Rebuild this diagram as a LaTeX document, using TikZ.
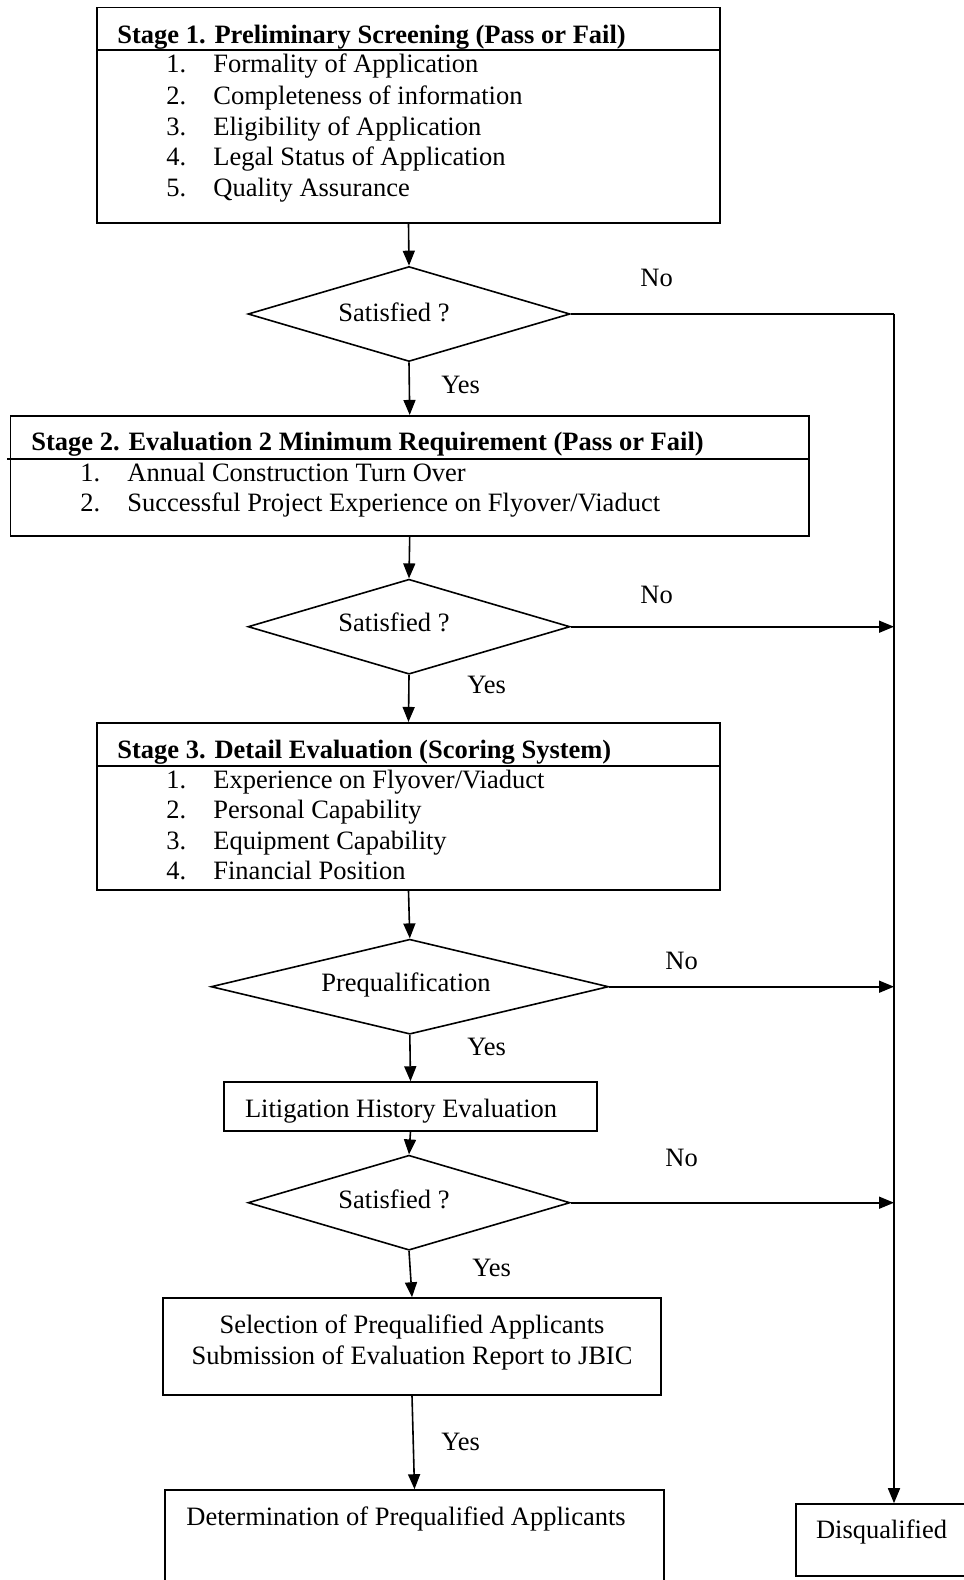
\documentclass[tikz,border=0pt]{standalone}
\usepackage{fontspec}
\setmainfont{Liberation Serif}
\usetikzlibrary{arrows.meta,positioning,shapes.geometric}

% number column of the item lists
\newcommand{\itemno}[2]{\makebox[23.5pt][l]{#1}#2}

\begin{document}
\begin{tikzpicture}[
    x=0.5pt, y=-0.5pt,
    every node/.style={font=\fontsize{13.25}{15.5}\selectfont},
    box/.style={rectangle, draw, line width=0.8pt, inner sep=0pt},
    decision/.style={diamond, draw, line width=0.8pt, inner sep=0pt},
    txt/.style={anchor=base west, inner sep=0pt},
    head/.style={txt, font=\fontsize{13.25}{15.5}\selectfont\bfseries},
    arrow/.style={-{Triangle[length=7.5pt, width=6pt]}, line width=0.8pt}
]
    \useasboundingbox (0,0) rectangle (964,1580);

    % Stage 1
    \node[box, minimum width=311.5pt, minimum height=107.85pt] (stage1) at (408.5,115.2) {};
    \draw[line width=0.8pt] (97,50) -- (720,50);
    \node[head] (s1head) at (117,43) {Stage 1. Preliminary Screening (Pass or Fail)};
    \node[txt] (s1a) at (166,72.7) {\itemno{1.}{Formality of Application}};
    \node[txt] (s1b) at (166,104) {\itemno{2.}{Completeness of information}};
    \node[txt] (s1c) at (166,135) {\itemno{3.}{Eligibility of Application}};
    \node[txt] (s1d) at (166,165.7) {\itemno{4.}{Legal Status of Application}};
    \node[txt] (s1e) at (166,196) {\itemno{5.}{Quality Assurance}};

    \node[decision, minimum width=161pt, minimum height=47.5pt] (q1) at (409,314) {};
    \node[txt] (q1txt) at (338,321) {Satisfied ?};

    % Stage 2
    \node[box, minimum width=399.3pt, minimum height=60.15pt] (stage2) at (409.7,475.9) {};
    \draw[line width=0.8pt] (7,458.7) -- (809,458.7);
    \node[head] (s2head) at (31,450) {Stage 2. Evaluation 2 Minimum Requirement (Pass or Fail)};
    \node[txt] (s2a) at (80,481.7) {\itemno{1.}{Annual Construction Turn Over}};
    \node[txt] (s2b) at (80,511.7) {\itemno{2.}{Successful Project Experience on Flyover/Viaduct}};

    \node[decision, minimum width=161pt, minimum height=47.5pt] (q2) at (409,626.7) {};
    \node[txt] (q2txt) at (338,631.7) {Satisfied ?};

    % Stage 3
    \node[box, minimum width=311.5pt, minimum height=83.65pt] (stage3) at (408.5,806.4) {};
    \draw[line width=0.8pt] (97,765.7) -- (720,765.7);
    \node[head] (s3head) at (117,758) {Stage 3. Detail Evaluation (Scoring System)};
    \node[txt] (s3a) at (166,788) {\itemno{1.}{Experience on Flyover/Viaduct}};
    \node[txt] (s3b) at (166,818.5) {\itemno{2.}{Personal Capability}};
    \node[txt] (s3c) at (166,849) {\itemno{3.}{Equipment Capability}};
    \node[txt] (s3d) at (166,879.5) {\itemno{4.}{Financial Position}};

    \node[decision, minimum width=198.75pt, minimum height=47.5pt] (q3) at (409.8,986.7) {};
    \node[txt] (q3txt) at (321,991.7) {Prequalification};

    \node[box, minimum width=186.5pt, minimum height=24.35pt] (litig) at (410.5,1106.4) {};
    \node[txt] (litigtxt) at (244.6,1117) {Litigation History Evaluation};

    \node[decision, minimum width=161pt, minimum height=47.5pt] (q4) at (409,1202.7) {};
    \node[txt] (q4txt) at (338,1208) {Satisfied ?};

    % Final boxes
    \node[box, minimum width=249pt, minimum height=48.35pt] (select) at (412,1346.4) {};
    \node[anchor=base, inner sep=0pt] (selecta) at (412,1333) {Selection of Prequalified Applicants};
    \node[anchor=base, inner sep=0pt] (selectb) at (412,1364) {Submission of Evaluation Report to JBIC};

    \node[box, minimum width=249.5pt, minimum height=60pt] (determ) at (414.5,1550) {};
    \node[txt] (determtxt) at (186,1525) {Determination of Prequalified Applicants};

    \node[box, minimum width=97pt, minimum height=36pt] (disq) at (893,1540) {};
    \node[txt] (disqtxt) at (815.6,1538) {Disqualified};

    % Arrows
    \coordinate (rail) at (894,314);
    \draw[arrow] (stage1.south) -- (q1.north);
    \draw[arrow] (q1.south) -- (stage2.north);
    \draw[arrow] (stage2.south) -- (q2.north);
    \draw[arrow] (q2.south) -- (stage3.north);
    \draw[arrow] (stage3.south) -- (q3.north);
    \draw[arrow] (q3.south) -- (litig.north);
    \draw[arrow] (litig.south) -- (q4.north);
    \draw[arrow] (q4.south) -- (select.north);
    \draw[arrow] (select.south) -- (determ.north);

    \draw[line width=0.8pt] (q1.east) -- (rail);
    \draw[arrow] (rail) -- (rail |- disq.north);
    \draw[arrow] (q2.east) -- (q2.east -| rail);
    \draw[arrow] (q3.east) -- (q3.east -| rail);
    \draw[arrow] (q4.east) -- (q4.east -| rail);

    % Yes / No labels
    \node[txt] (no1) at (640,286) {No};
    \node[txt] (no2) at (640,603.3) {No};
    \node[txt] (no3) at (665,969) {No};
    \node[txt] (no4) at (665,1166.7) {No};
    \node[txt] (yes1) at (441,393) {Yes};
    \node[txt] (yes2) at (467,693) {Yes};
    \node[txt] (yes3) at (467,1055) {Yes};
    \node[txt] (yes4) at (472,1276.7) {Yes};
    \node[txt] (yes5) at (441,1450.7) {Yes};

\end{tikzpicture}
\end{document}
